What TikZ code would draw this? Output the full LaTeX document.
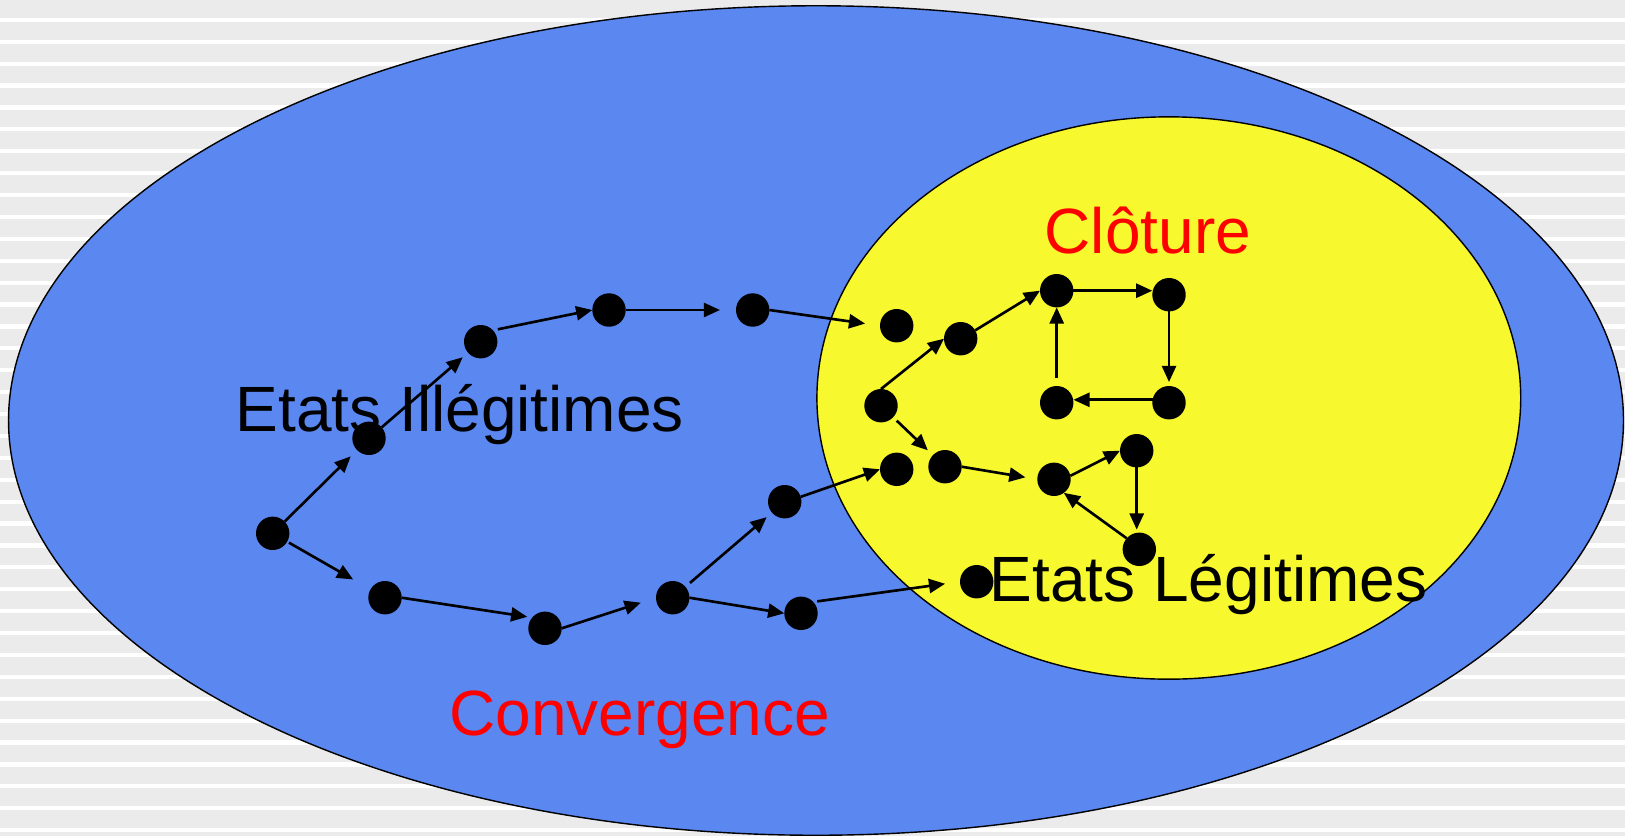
\documentclass[tikz,border=0pt]{standalone}
\usepackage{fontspec}
\setmainfont{Liberation Sans}
\usetikzlibrary{arrows.meta}

\definecolor{stripegray}{HTML}{EBEBEB}
\definecolor{outerblue}{HTML}{5A87F0}
\definecolor{inneryellow}{HTML}{F8F82E}
\definecolor{labelred}{HTML}{FF0000}

\tikzset{
  state/.style={circle, fill=black, draw=none, inner sep=0pt, outer sep=0pt, minimum size=0.334cm},
  trans/.style={line width=0.75pt, -{Triangle[length=4.6pt, width=4pt]}},
  setlabel/.style={inner sep=0pt, anchor=base west, font=\fontsize{18.2pt}{22pt}\selectfont},
  region/.style={draw=black, line width=0.4pt},
}

\begin{document}
\begin{tikzpicture}[x=0.01cm, y=-0.01cm]
  \useasboundingbox (0,0) rectangle (1625,836);

  % striped backdrop
  \fill[stripegray] (0,0) rectangle (1625,836);
  \foreach \k in {0,...,38} {
    \fill[white] (0,{17.7+21.9*\k}) rectangle (1625,{21.9+21.9*\k});
  }

  % state space and legitimate region
  \path[region, fill=outerblue] (816,420.5) ellipse [x radius=8.07cm, y radius=4.145cm];
  \path[region, fill=inneryellow] (1168.8,398) ellipse [x radius=3.517cm, y radius=2.81cm];

  % labels
  \node[setlabel] (lblill) at (235,431) {Etats Illégitimes};
  \node[setlabel] (lblleg) at (989,601.7) {Etats Légitimes};
  \node[setlabel, text=labelred] (lblclo) at (1044,253.3) {Clôture};
  \node[setlabel, text=labelred] (lblconv) at (448.5,735) {Convergence};

  % states
  \node[state] (A) at (272.7,533.3) {};
  \node[state] (B) at (369,438.3) {};
  \node[state] (C) at (480.7,341.7) {};
  \node[state] (D) at (609,310) {};
  \node[state] (E) at (385,597.7) {};
  \node[state] (F) at (545,628.3) {};
  \node[state] (G) at (672.7,597.7) {};
  \node[state] (U) at (784.7,501.7) {};
  \node[state] (W) at (801,613.3) {};
  \node[state] (V) at (976.7,581.7) {};
  \node[state] (H) at (752.7,310) {};
  \node[state] (I) at (896.7,325.7) {};
  \node[state] (J) at (960.7,338.7) {};
  \node[state] (K) at (1056.7,290.7) {};
  \node[state] (L) at (1169,294.7) {};
  \node[state] (M) at (1169,402.7) {};
  \node[state] (N) at (1056.7,402.7) {};
  \node[state] (O) at (881,405.7) {};
  \node[state] (P) at (896.7,469.3) {};
  \node[state] (Q) at (945,466.7) {};
  \node[state] (R) at (1054,479.3) {};
  \node[state] (S) at (1136.7,450.7) {};
  \node[state] (T) at (1139.3,549.3) {};

  % transitions: upper path
  \draw[trans, shorten >=0.09cm] (A) -- (B);
  \draw[trans, shorten >=0.07cm] (B) -- (C);
  \draw[trans, shorten <=0.05cm] (C.43) -- (D.west);
  \draw[trans, shorten >=0.16cm] (D.east) -- (H.west);
  \draw[trans, shorten >=0.15cm] (H.east) -- (I.west);

  % transitions: lower path
  \draw[trans, shorten <=0.02cm, shorten >=0.20cm] (A) -- (E);
  \draw[trans, shorten >=0.05cm] (E.east) -- (F.140);
  \draw[trans, shorten >=0.16cm] (F.east) -- (G.west);
  \draw[trans, shorten <=0.06cm, shorten >=0.07cm] (G) -- (U);
  \draw[trans] (G.east) -- (W.west);
  \draw[trans, shorten <=0.04cm, shorten >=0.15cm] (W.43) -- (V.west);
  \draw[trans] (U.17) -- (P.west);

  % transitions inside the legitimate region
  \draw[trans] (O.north) -- (J.west);
  \draw[trans] (J.30) -- (K.west);
  \draw[trans] (K.east) -- (K.east -| L.west);
  \draw[trans, shorten >=0.04cm] (L.south) -- (M.north);
  \draw[trans] (M.170) -- (M.170 -| N.east);
  \draw[trans, shorten <=0.08cm] (N.north) -- (K.south);
  \draw[trans, shorten <=0.05cm, shorten >=0.07cm] (O) -- (Q);
  \draw[trans, shorten >=0.12cm] (Q.east) -- (R.west);
  \draw[trans] (R.12) -- (S.west);
  \draw[trans, shorten >=0.03cm] (S.south) -- (S.south |- T.north);
  \draw[trans] (T.139) -- (R.-54);
\end{tikzpicture}
\end{document}
